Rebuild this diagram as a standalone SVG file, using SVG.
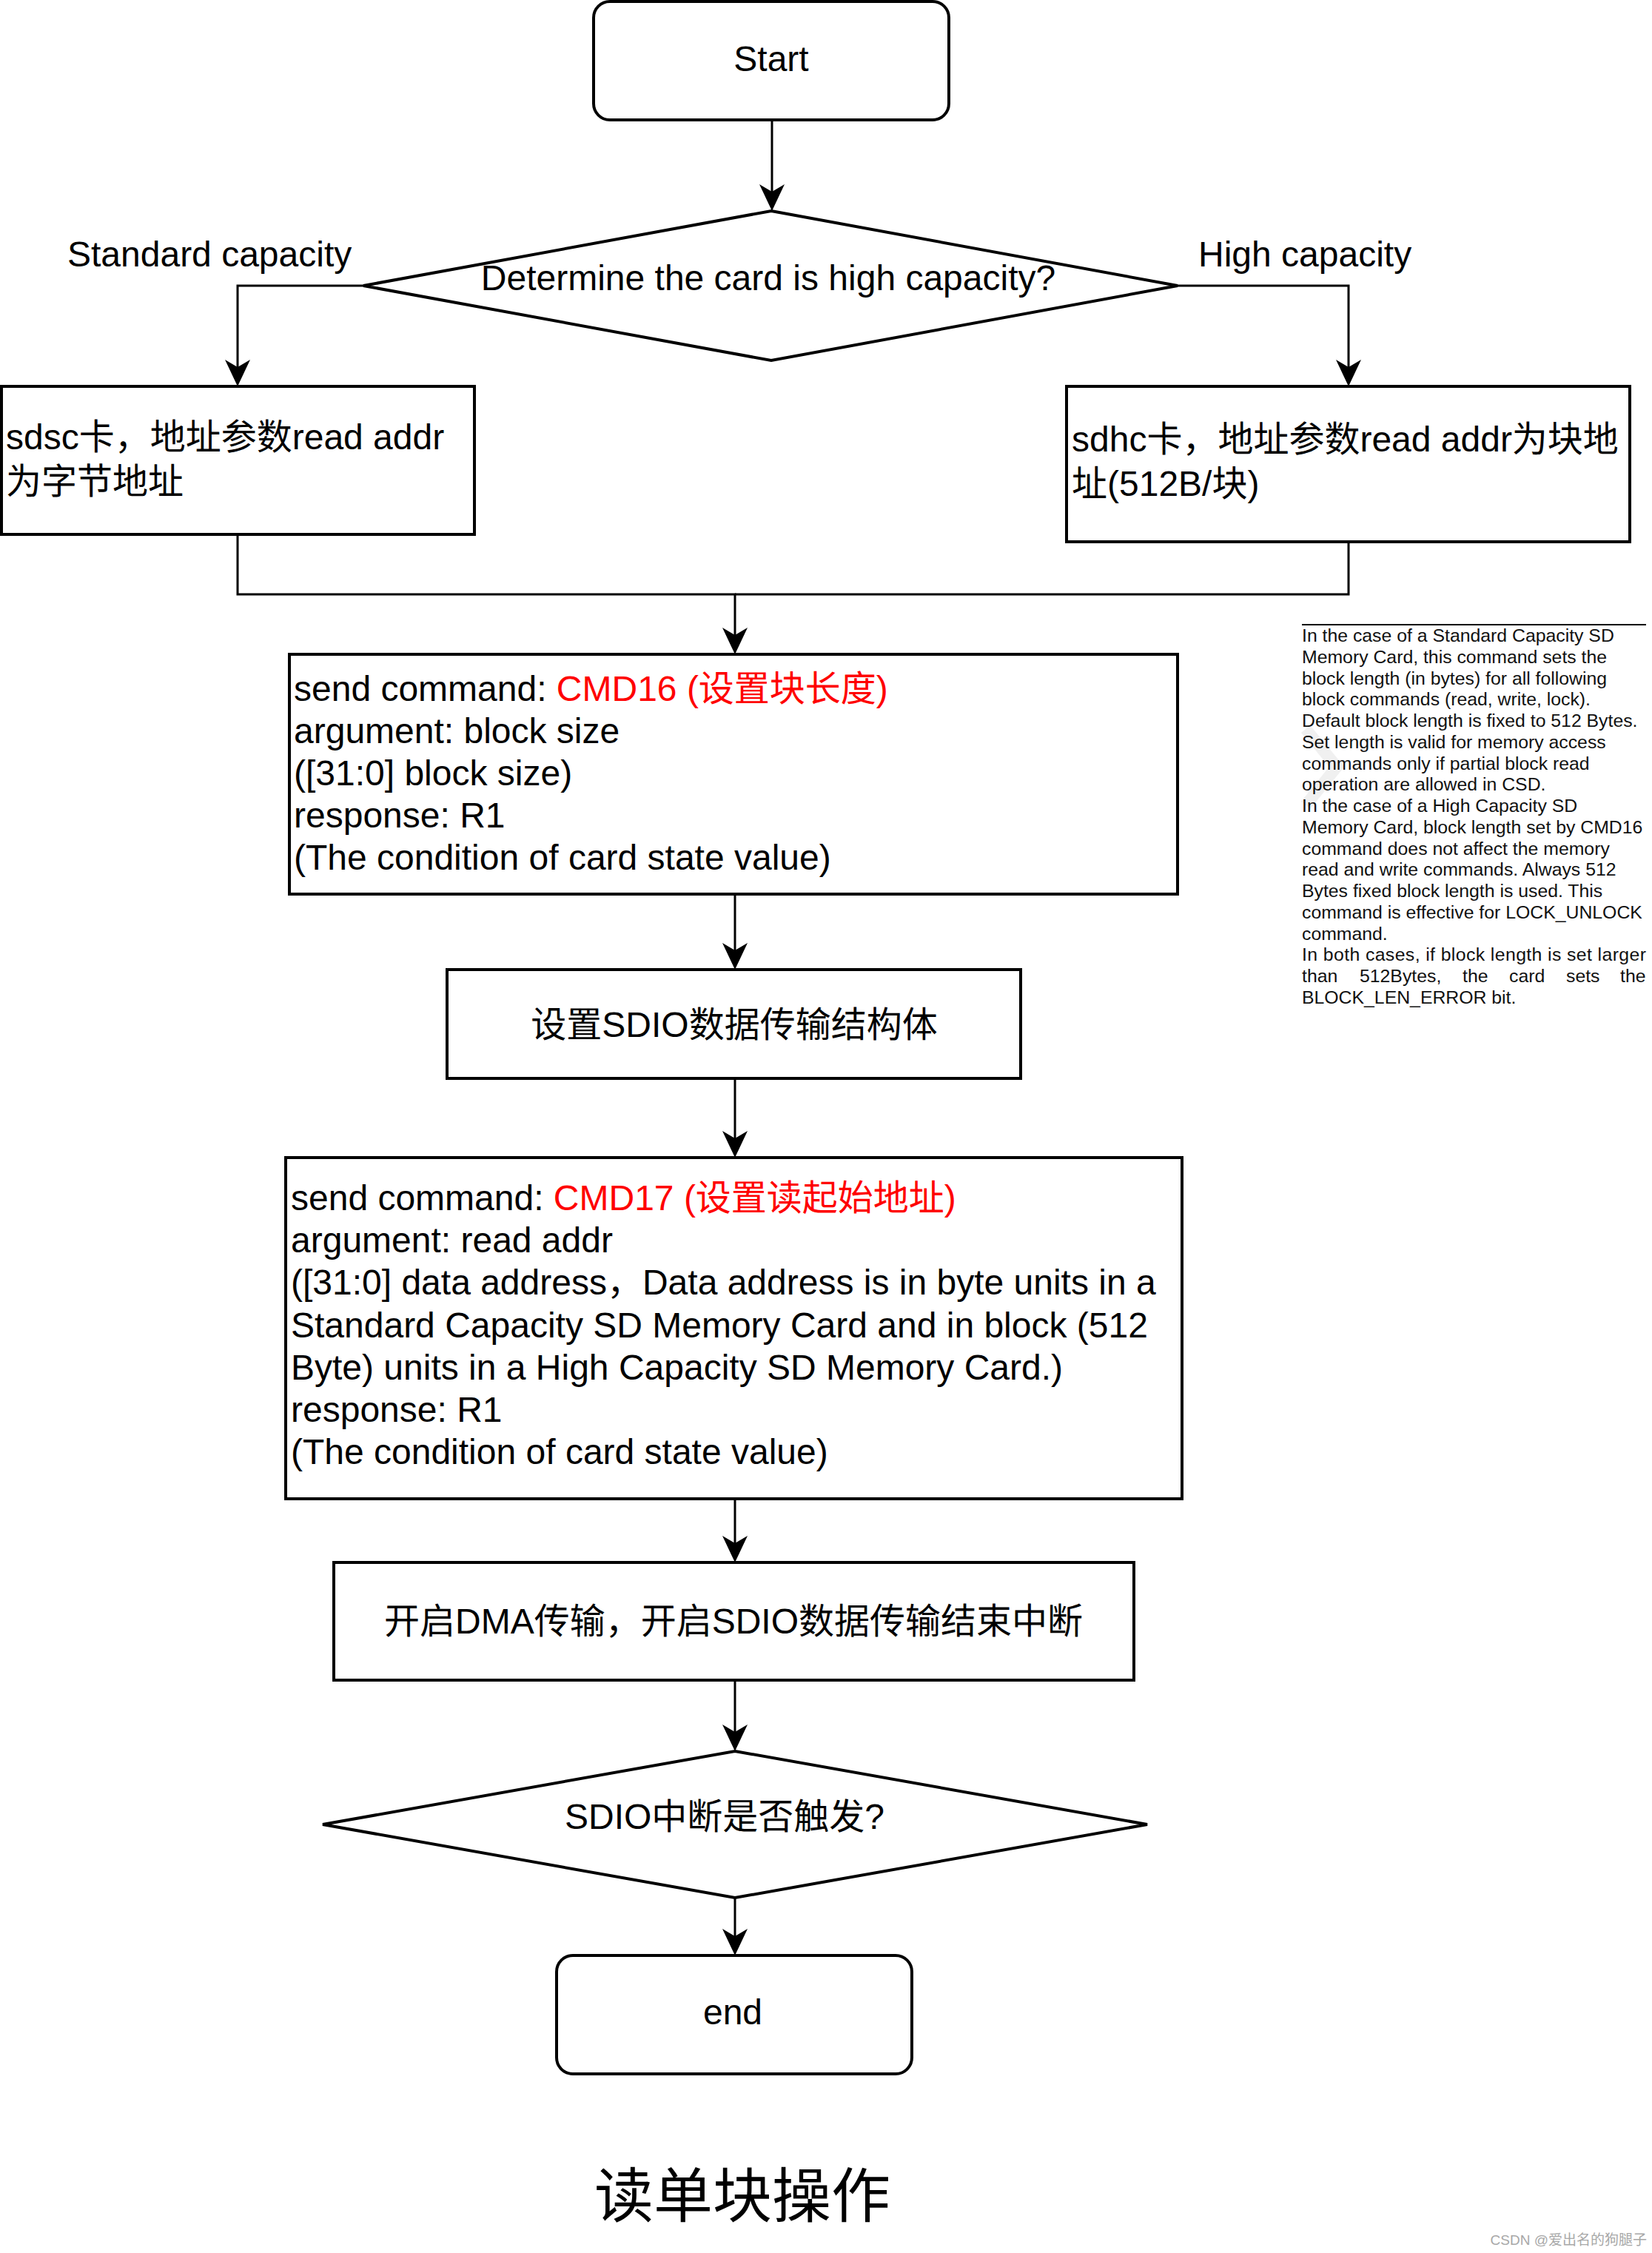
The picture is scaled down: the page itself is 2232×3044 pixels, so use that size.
<svg xmlns="http://www.w3.org/2000/svg" width="2232" height="3044" viewBox="0 0 2232 3044">
<style>
  .box{fill:#fff;stroke:#000;stroke-width:4}
  .edge{fill:none;stroke:#000;stroke-width:3}
  .t{font-family:"Liberation Sans",Arial,"Noto Sans CJK SC",sans-serif;font-size:48px;fill:#000}
  .c{text-anchor:middle}
  .red{fill:#ff0000}
  .note{font-family:"Liberation Sans",Arial,sans-serif;font-size:24.8px;fill:#111}
</style>
<defs>
  <marker id="arr" markerUnits="userSpaceOnUse" markerWidth="36" markerHeight="36" viewBox="0 0 36 36" refX="16" refY="18" orient="auto">
    <path d="M0,1 L36,18 L0,35 L10,18 Z" fill="#000"/>
  </marker>
</defs>
<rect width="2232" height="3044" fill="#fff"/>

<g id="connectors">
  <path class="edge" d="M1043,162 L1043,265" marker-end="url(#arr)"/>
  <path class="edge" d="M491,386 L321,386 L321,502" marker-end="url(#arr)"/>
  <path class="edge" d="M1591,386 L1822,386 L1822,502" marker-end="url(#arr)"/>
  <path class="edge" d="M321,722 L321,803 L993,803 L993,864" marker-end="url(#arr)"/>
  <path class="edge" d="M1822,732 L1822,803 L993,803"/>
  <path class="edge" d="M993,1208 L993,1290" marker-end="url(#arr)"/>
  <path class="edge" d="M993,1457 L993,1544" marker-end="url(#arr)"/>
  <path class="edge" d="M993,2025 L993,2091" marker-end="url(#arr)"/>
  <path class="edge" d="M993,2270 L993,2346" marker-end="url(#arr)"/>
  <path class="edge" d="M993,2564 L993,2622" marker-end="url(#arr)"/>
</g>

<g id="start">
  <rect class="box" x="802" y="2" width="480" height="160" rx="22" ry="22"/>
  <text class="t c" x="1042" y="96">Start</text>
</g>

<g id="decision-capacity">
  <polygon class="box" points="1042,285 1591,386 1042,487 491,386"/>
  <text class="t c" x="1038" y="392">Determine the card is high capacity?</text>
</g>

<g id="label-standard">
  <text class="t" x="91" y="360">Standard capacity</text>
</g>
<g id="label-high">
  <text class="t" x="1619" y="360">High capacity</text>
</g>

<g id="sdsc">
  <rect class="box" x="2" y="522" width="639" height="200"/>
  <text class="t" x="8" y="607">sdsc卡，地址参数read addr</text>
  <text class="t" x="8" y="667">为字节地址</text>
</g>

<g id="sdhc">
  <rect class="box" x="1441" y="522" width="761" height="210"/>
  <text class="t" x="1448" y="610">sdhc卡，地址参数read addr为块地</text>
  <text class="t" x="1448" y="670">址(512B/块)</text>
</g>

<g id="cmd16">
  <rect class="box" x="391" y="884" width="1200" height="324"/>
  <text class="t" x="397" y="947">send command: <tspan class="red">CMD16 (设置块长度)</tspan></text>
  <text class="t" x="397" y="1004">argument: block size</text>
  <text class="t" x="397" y="1061">([31:0] block size)</text>
  <text class="t" x="397" y="1118">response: R1</text>
  <text class="t" x="397" y="1175">(The condition of card state value)</text>
</g>

<g id="note">
  <line x1="1759" y1="844" x2="2224" y2="844" stroke="#000" stroke-width="2"/>
  <polyline points="1764,985 1806,1036 1764,1088" fill="none" stroke="#000" stroke-opacity="0.06" stroke-width="16"/>
  <text class="note" x="1759" y="867">In the case of a Standard Capacity SD</text>
  <text class="note" x="1759" y="895.75">Memory Card, this command sets the</text>
  <text class="note" x="1759" y="924.5">block length (in bytes) for all following</text>
  <text class="note" x="1759" y="953.25">block commands (read, write, lock).</text>
  <text class="note" x="1759" y="982">Default block length is fixed to 512 Bytes.</text>
  <text class="note" x="1759" y="1010.75">Set length is valid for memory access</text>
  <text class="note" x="1759" y="1039.5">commands only if partial block read</text>
  <text class="note" x="1759" y="1068.25">operation are allowed in CSD.</text>
  <text class="note" x="1759" y="1097">In the case of a High Capacity SD</text>
  <text class="note" x="1759" y="1125.75">Memory Card, block length set by CMD16</text>
  <text class="note" x="1759" y="1154.5">command does not affect the memory</text>
  <text class="note" x="1759" y="1183.25">read and write commands. Always 512</text>
  <text class="note" x="1759" y="1212">Bytes fixed block length is used. This</text>
  <text class="note" x="1759" y="1240.75">command is effective for LOCK_UNLOCK</text>
  <text class="note" x="1759" y="1269.5">command.</text>
  <text class="note" x="1759" y="1298.25" textLength="465" lengthAdjust="spacing">In both cases, if block length is set larger</text>
  <text class="note" y="1327"><tspan x="1759">than</tspan><tspan x="1837">512Bytes,</tspan><tspan x="1976">the</tspan><tspan x="2039">card</tspan><tspan x="2116">sets</tspan><tspan x="2189">the</tspan></text>
  <text class="note" x="1759" y="1355.75">BLOCK_LEN_ERROR bit.</text>
</g>

<g id="sdio-struct">
  <rect class="box" x="604" y="1310" width="775" height="147"/>
  <text class="t c" x="992" y="1401">设置SDIO数据传输结构体</text>
</g>

<g id="cmd17">
  <rect class="box" x="386" y="1564" width="1211" height="461"/>
  <text class="t" x="393" y="1635">send command: <tspan class="red">CMD17 (设置读起始地址)</tspan></text>
  <text class="t" x="393" y="1692">argument: read addr</text>
  <text class="t" x="393" y="1749">([31:0] data address，Data address is in byte units in a</text>
  <text class="t" x="393" y="1807">Standard Capacity SD Memory Card and in block (512</text>
  <text class="t" x="393" y="1864">Byte) units in a High Capacity SD Memory Card.)</text>
  <text class="t" x="393" y="1921">response: R1</text>
  <text class="t" x="393" y="1978">(The condition of card state value)</text>
</g>

<g id="dma">
  <rect class="box" x="451" y="2111" width="1081" height="159"/>
  <text class="t c" x="991" y="2207">开启DMA传输，开启SDIO数据传输结束中断</text>
</g>

<g id="decision-irq">
  <polygon class="box" points="993,2366 1550,2465 993,2564 436,2465"/>
  <text class="t c" x="979" y="2471">SDIO中断是否触发?</text>
</g>

<g id="end">
  <rect class="box" x="752" y="2642" width="480" height="160" rx="22" ry="22"/>
  <text class="t c" x="990" y="2735">end</text>
</g>

<g id="title">
  <text class="t c" x="1003" y="2995" style="font-size:80px">读单块操作</text>
</g>
<g id="watermark">
  <text x="2225" y="3033" text-anchor="end" style="font-family:'Liberation Sans',Arial,'Noto Sans CJK SC',sans-serif;font-size:19px;fill:#a8a8a8">CSDN @爱出名的狗腿子</text>
</g>
</svg>
